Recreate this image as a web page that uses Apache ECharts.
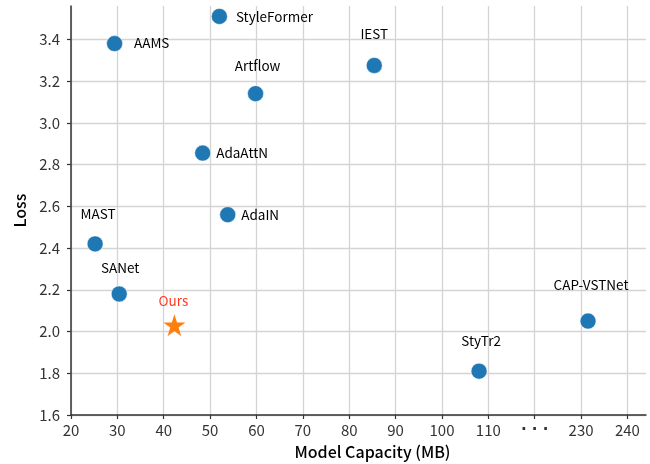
<!DOCTYPE html>
<html><head><meta charset="utf-8">
<script src="https://cdn.jsdelivr.net/npm/echarts@6/dist/echarts.min.js"></script>
<style>html,body{margin:0;padding:0;background:#fff}#c{width:650px;height:464px}</style>
</head><body><div id="c"></div>
<script>
// Data (real model capacity in MB, loss)
const methods = ['StyleFormer','AAMS','Artflow','IEST','AdaAttN','AdaIN','MAST','SANet','StyTr2','CAP-VSTNet'];
const capacity = [52.0, 29.4, 59.8, 85.4, 48.4, 53.8, 25.2, 30.4, 108.0, 231.5];
const loss = [3.51, 3.38, 3.14, 3.275, 2.855, 2.56, 2.42, 2.18, 1.81, 2.05];
const oursName = 'Ours';
const oursCapacity = [42.3];
const oursLoss = [2.03];
const xTickLabels = ['20','30','40','50','60','70','80','90','100','110','· · ·','230','240'];

// broken axis: values >= 200 are shifted down by 100 so 230 sits after the gap
const BREAK_SHIFT = 100;
const toAxis = v => v >= 200 ? v - BREAK_SHIFT : v;

// label placement (style only)
const labelPlace = {
  'StyleFormer': {position:'right', distance:8, offset:[0,0]},
  'AAMS': {position:'right', distance:11, offset:[0,-1]},
  'Artflow': {position:'top', distance:13, offset:[2,0]},
  'IEST': {position:'top', distance:16, offset:[0,0]},
  'AdaAttN': {position:'right', distance:5, offset:[0,0]},
  'AdaIN': {position:'right', distance:5, offset:[0,0]},
  'MAST': {position:'top', distance:15, offset:[3,0]},
  'SANet': {position:'top', distance:11, offset:[1,0]},
  'StyTr2': {position:'top', distance:15, offset:[2,0]},
  'CAP-VSTNet': {position:'top', distance:21, offset:[3,0]}
};

const FONT = '"Noto Sans CJK SC", "Noto Sans", sans-serif';
const pts = methods.map((m,i)=>({
  name:m, value:[toAxis(capacity[i]), loss[i]],
  label:Object.assign({show:true, formatter:m, color:'#000', fontSize:13.5, fontFamily:FONT}, labelPlace[m])
}));
const ours = oursCapacity.map((c,i)=>({
  name:oursName, value:[toAxis(c), oursLoss[i]],
  label:{show:true, position:'top', distance:7, offset:[-1,0], formatter:oursName, color:'#ff3b1f', fontSize:13.5, fontFamily:FONT}
}));

const chart = echarts.init(document.getElementById('c'), null, {renderer:'canvas'});
chart.setOption({
  animation:false,
  grid:{left:71, right:4, top:6, bottom:49, containLabel:false, outerBoundsMode:'none'},
  xAxis:{
    type:'value', min:20, max:144, interval:10,
    name:'Model Capacity (MB)', nameLocation:'middle', nameGap:29,
    nameTextStyle:{fontSize:16, color:'#000', fontFamily:FONT, fontWeight:500, padding:[0,0,0,28]},
    axisLine:{lineStyle:{color:'#333', width:1.5}},
    axisTick:{show:true, length:4, lineStyle:{color:'#333', width:1.2}},
    axisLabel:{fontSize:15, color:'#333', fontFamily:FONT, margin:8, showMaxLabel:false,
      rich:{d:{fontSize:15, fontWeight:'bold', fontFamily:'"DejaVu Sans"', color:'#333'}},
      formatter:v=>{const i=Math.round((v-20)/10); if(xTickLabels[i]===undefined || Math.abs(v-20-i*10)>1e-6) return ''; return i===10 ? '{d|'+xTickLabels[i]+'}' : xTickLabels[i];}},
    splitLine:{show:true, showMaxLine:false, lineStyle:{color:'#d4d4d4', width:1.3}}
  },
  yAxis:{
    type:'value', min:1.6, max:3.56, interval:0.2,
    name:'Loss', nameLocation:'middle', nameGap:39,
    nameTextStyle:{fontSize:16, color:'#000', fontFamily:FONT, fontWeight:500},
    axisLine:{show:true, lineStyle:{color:'#333', width:1.5}},
    axisTick:{show:true, length:4, lineStyle:{color:'#333', width:1.2}},
    axisLabel:{fontSize:15, color:'#333', fontFamily:FONT, margin:11, showMaxLabel:false, align:'right',
      formatter:v=>v.toFixed(1)},
    splitLine:{show:true, showMaxLine:false, lineStyle:{color:'#d4d4d4', width:1.3}}
  },
  series:[
    {type:'scatter', data:pts, symbol:'circle', symbolSize:16,
      itemStyle:{color:'#1f77b4', opacity:1, borderColor:'rgba(255,255,255,0.5)', borderWidth:1}},
    {type:'scatter', data:ours, symbol:'path://M50,0 L61.8,35.4 L100,35.4 L69.1,57.3 L80.9,95.1 L50,72.4 L19.1,95.1 L30.9,57.3 L0,35.4 L38.2,35.4 Z', symbolSize:22,
      itemStyle:{color:'#ff7f0e', opacity:1}}
  ]
});
</script></body></html>
